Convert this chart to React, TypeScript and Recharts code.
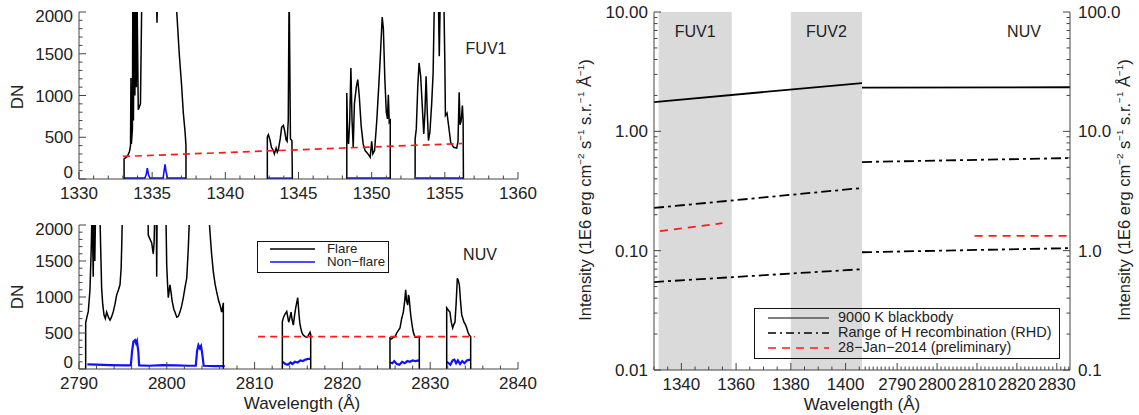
import { LineChart, Line, XAxis, YAxis, ReferenceArea } from 'recharts';

type Pt = [number, number];

const FONT = '"Liberation Sans", Arial, Helvetica, sans-serif';
const INK = '#222';
const AXIS = '#444';

// ---- top left: FUV1 spectra (wavelength A, DN) ----
const fuvFlareWin1: Pt[] = [
  [1333.08, 0], [1333.08, 240], [1333.3, 270], [1333.45, 330], [1333.52, 400], [1333.55, 1210],
  [1333.58, 420], [1333.65, 600], [1333.68, 2300], [1333.72, 700], [1333.78, 2300], [1333.82, 1000],
  [1333.86, 2300], [1333.92, 1100], [1333.96, 2300], [1334.05, 830], [1334.2, 900], [1334.3, 2300],
  [1335.28, 2300], [1335.33, 1870], [1335.38, 2300], [1336.62, 2300], [1336.68, 2000], [1336.85, 1500],
  [1337.0, 1150], [1337.13, 790], [1337.25, 560], [1337.31, 400], [1337.31, 0],
];
const fuvFlareWin2: Pt[] = [
  [1342.87, 0], [1342.87, 500], [1342.94, 530], [1343.05, 470], [1343.15, 380], [1343.28, 340],
  [1343.35, 300], [1343.47, 370], [1343.55, 320], [1343.62, 350], [1343.75, 480], [1343.85, 620],
  [1343.97, 640], [1344.05, 580], [1344.15, 470], [1344.22, 450], [1344.3, 700], [1344.36, 2300],
  [1344.4, 1500], [1344.45, 480], [1344.55, 460], [1344.58, 0],
];
const fuvFlareWin3: Pt[] = [
  [1348.3, 0], [1348.3, 1030], [1348.36, 500], [1348.42, 420], [1348.5, 700], [1348.58, 1330],
  [1348.66, 700], [1348.74, 380], [1348.82, 900], [1348.95, 1100], [1349.05, 1190], [1349.15, 1000],
  [1349.28, 640], [1349.42, 420], [1349.55, 340], [1349.75, 300], [1349.9, 260], [1350.0, 450],
  [1350.08, 300], [1350.2, 340], [1350.35, 700], [1350.5, 1160], [1350.6, 1500], [1350.72, 1940],
  [1350.8, 1800], [1350.9, 1200], [1351.0, 800], [1351.08, 720], [1351.14, 1010], [1351.2, 680],
  [1351.27, 700], [1351.27, 0],
];
const fuvFlareWin4: Pt[] = [
  [1352.97, 0], [1352.97, 480], [1353.05, 600], [1353.15, 1100], [1353.24, 1390], [1353.35, 1230],
  [1353.45, 900], [1353.56, 540], [1353.64, 800], [1353.72, 1230], [1353.8, 800], [1353.88, 460],
  [1353.98, 560], [1354.1, 900], [1354.2, 1270], [1354.3, 2300], [1354.55, 2300], [1354.62, 1470],
  [1354.7, 2300], [1354.92, 2300], [1355.0, 1400], [1355.04, 760], [1355.15, 790], [1355.25, 650],
  [1355.4, 440], [1355.6, 380], [1355.81, 370], [1355.9, 450], [1355.98, 1040], [1356.04, 650],
  [1356.12, 700], [1356.2, 880], [1356.25, 700], [1356.27, 0],
];
const fuvQuietWin1: Pt[] = [
  [1333.08, 10], [1334.5, 10], [1334.6, 60], [1334.67, 130], [1334.75, 50], [1334.85, 10],
  [1335.75, 10], [1335.82, 100], [1335.88, 175], [1335.95, 90], [1336.05, 10], [1337.3, 10],
];
const fuvQuietWin2: Pt[] = [[1342.9, 10], [1344.55, 10]];
const fuvQuietWin3: Pt[] = [[1348.32, 10], [1351.25, 10]];
const fuvQuietWin4: Pt[] = [[1353.0, 10], [1356.25, 10]];
const fuvObserved: Pt[] = [[1333.0, 270], [1356.2, 425]];

// ---- bottom left: NUV spectra ----
const nuvFlareWin1: Pt[] = [
  [2790.76, 0], [2790.76, 640], [2790.9, 720], [2791.06, 800], [2791.25, 1100], [2791.4, 1700],
  [2791.5, 2300], [2791.62, 1280], [2791.7, 2300], [2791.8, 1500], [2791.9, 2300], [2792.35, 2300],
  [2792.47, 1680], [2792.58, 1120], [2792.7, 900], [2792.85, 750], [2793.0, 700], [2793.15, 790],
  [2793.35, 720], [2793.53, 680], [2793.7, 720], [2793.91, 800], [2794.1, 900], [2794.29, 1030],
  [2794.5, 1100], [2794.67, 1170], [2794.8, 1400], [2794.86, 1680], [2794.97, 2300], [2797.85, 2300],
  [2797.89, 1860], [2798.1, 1800], [2798.28, 1750], [2798.46, 1600], [2798.55, 1750], [2798.66, 2300],
  [2798.8, 2300], [2798.85, 1280], [2798.9, 2300], [2799.88, 2300], [2799.99, 1440], [2800.1, 1150],
  [2800.17, 990], [2800.36, 1170], [2800.5, 1050], [2800.6, 950], [2800.8, 830], [2800.93, 790],
  [2801.13, 720], [2801.3, 730], [2801.5, 790], [2801.7, 880], [2801.88, 990], [2802.1, 1150],
  [2802.27, 1260], [2802.45, 1680], [2802.64, 2300], [2804.7, 2300], [2804.92, 1900], [2805.1, 1600],
  [2805.3, 1350], [2805.5, 1180], [2805.68, 1070], [2805.9, 950], [2806.06, 890], [2806.25, 790],
  [2806.35, 850], [2806.44, 920], [2806.44, 0],
];
const nuvFlareWin2: Pt[] = [
  [2813.16, 0], [2813.16, 660], [2813.3, 720], [2813.45, 760], [2813.66, 800], [2813.78, 720],
  [2813.88, 650], [2814.0, 700], [2814.15, 790], [2814.28, 680], [2814.41, 610], [2814.55, 740],
  [2814.68, 850], [2814.8, 920], [2814.91, 990], [2815.0, 850], [2815.06, 750], [2815.15, 640],
  [2815.25, 570], [2815.4, 500], [2815.55, 470], [2815.75, 450], [2815.93, 440], [2816.1, 460],
  [2816.31, 510], [2816.39, 480], [2816.39, 0],
];
const nuvFlareWin3: Pt[] = [
  [2825.42, 0], [2825.42, 430], [2825.6, 420], [2825.8, 440], [2826.0, 450], [2826.18, 500],
  [2826.4, 540], [2826.56, 570], [2826.75, 700], [2826.94, 790], [2827.1, 950], [2827.21, 1100],
  [2827.3, 950], [2827.44, 890], [2827.52, 1030], [2827.59, 1000], [2827.7, 850], [2827.78, 750],
  [2827.95, 600], [2828.08, 510], [2828.27, 440], [2828.5, 440], [2828.65, 450], [2828.76, 450],
  [2828.76, 0],
];
const nuvFlareWin4: Pt[] = [
  [2831.88, 0], [2831.88, 850], [2832.05, 820], [2832.25, 790], [2832.4, 650], [2832.56, 570],
  [2832.7, 620], [2832.82, 650], [2832.95, 900], [2833.09, 1260], [2833.2, 1230], [2833.32, 1170],
  [2833.45, 950], [2833.59, 750], [2833.72, 700], [2833.85, 650], [2834.0, 620], [2834.16, 570],
  [2834.3, 510], [2834.45, 470], [2834.61, 450], [2834.61, 0],
];
const nuvQuietWin1: Pt[] = [
  [2790.95, 65], [2792, 60], [2793.5, 55], [2795, 50], [2795.9, 50], [2796.05, 250], [2796.2, 380],
  [2796.38, 400], [2796.5, 360], [2796.6, 390], [2796.75, 250], [2796.85, 50], [2798, 45],
  [2799.5, 55], [2801, 50], [2802.5, 45], [2803.3, 45], [2803.45, 250], [2803.6, 330],
  [2803.75, 290], [2803.9, 320], [2804.05, 200], [2804.2, 45], [2805.5, 40], [2806.6, 40],
];
const nuvQuietWin2: Pt[] = [
  [2813.2, 100], [2813.5, 70], [2813.8, 60], [2814.1, 90], [2814.3, 70], [2814.6, 100],
  [2814.9, 90], [2815.2, 120], [2815.5, 110], [2815.8, 130], [2816.1, 140], [2816.4, 140],
];
const nuvQuietWin3: Pt[] = [
  [2825.45, 90], [2825.7, 80], [2825.9, 110], [2826.2, 70], [2826.5, 60], [2826.8, 100],
  [2827.1, 80], [2827.4, 110], [2827.7, 100], [2828.0, 120], [2828.3, 110], [2828.75, 120],
];
const nuvQuietWin4: Pt[] = [
  [2831.9, 100], [2832.1, 80], [2832.3, 60], [2832.55, 120], [2832.75, 130], [2832.95, 80],
  [2833.15, 120], [2833.4, 70], [2833.65, 110], [2833.9, 80], [2834.2, 120], [2834.6, 130],
];
const nuvObserved: Pt[] = [[2810.4, 450], [2835.1, 450]];

// ---- right: continuum intensity (1E6 erg cm-2 s-1 sr-1 A-1) ----
const fuvBands: Pt[] = [[1331.7, 1358.4], [1380, 1406]];
const fuvBandNames = ['FUV1', 'FUV2'];
const bbFuv: Pt[] = [[1330, 1.76], [1406, 2.54]];
const rhdHighFuv: Pt[] = [[1330, 0.228], [1406, 0.335]];
const rhdLowFuv: Pt[] = [[1330, 0.0546], [1406, 0.07]];
const obsFuv: Pt[] = [[1332.2, 0.146], [1355, 0.17]];
const bbNuv: Pt[] = [[2781.2, 23.2], [2833.3, 23.4]];
const rhdHighNuv: Pt[] = [[2781.2, 5.53], [2833.3, 5.97]];
const rhdLowNuv: Pt[] = [[2781.2, 0.97], [2833.3, 1.05]];
const obsNuv: Pt[] = [[2809.4, 1.33], [2833.3, 1.33]];

// ---- ticks ----
const range = (a: number, b: number, step: number) => {
  const out: number[] = [];
  for (let v = a; v <= b + 1e-9; v += step) out.push(Math.round(v * 1000) / 1000);
  return out;
};
const logTicks = (lo: number, hi: number) => {
  const out: number[] = [];
  for (let d = lo; d < hi * 0.999; d *= 10) for (let k = 1; k < 10; k++) out.push(+(d * k).toPrecision(3));
  out.push(hi);
  return out;
};
const dnMajor = [0, 500, 1000, 1500, 2000];
const fuv1Major = [1330, 1335, 1340, 1345, 1350, 1355, 1360];
const nuvSpecMajor = [2790, 2800, 2810, 2820, 2830, 2840];
const fuvWideMajor = [1340, 1360, 1380, 1400];
const nuvWideMajor = [2790, 2800, 2810, 2820, 2830];
const fuvIntMajor = [0.01, 0.1, 1, 10];
const nuvIntMajor = [0.1, 1, 10, 100];

const rows = (pts: Pt[]) => pts.map(([x, y]) => ({ x, y }));
const isIn = (list: number[], v: number) => list.some((m) => Math.abs(m - v) < 1e-9);

type Side = 'bottom' | 'top' | 'left' | 'right';
// nudge: shifts the lowest / highest y label inward, like the original plot does
function tickOf(side: Side, majors: number[], fmt: ((v: number) => string) | null, nudge = false, fontSize = 17) {
  const lo = Math.min(...majors);
  const hi = Math.max(...majors);
  return (props: any) => {
    const { x, y, payload } = props;
    const v = payload.value as number;
    const major = isIn(majors, v);
    const len = major ? 7 : 3.5;
    const label = major && fmt ? fmt(v) : null;
    const ls = { stroke: AXIS, strokeWidth: 1 };
    const ts = { fontSize, fontFamily: FONT, fill: INK };
    const dy = nudge ? (v === lo ? -7 : v === hi ? 4 : 0) : 0;
    if (side === 'bottom')
      return (
        <g>
          <line x1={x} y1={y} x2={x} y2={y - len} {...ls} />
          {label && <text x={x} y={y + 20} textAnchor="middle" {...ts}>{label}</text>}
        </g>
      );
    if (side === 'top')
      return <g><line x1={x} y1={y} x2={x} y2={y + len} {...ls} /></g>;
    if (side === 'left')
      return (
        <g>
          <line x1={x} y1={y} x2={x + len} y2={y} {...ls} />
          {label && <text x={x - 6} y={y + 6 + dy} textAnchor="end" {...ts}>{label}</text>}
        </g>
      );
    return (
      <g>
        <line x1={x} y1={y} x2={x - len} y2={y} {...ls} />
        {label && <text x={x + 8} y={y + 6 + dy} textAnchor="start" {...ts}>{label}</text>}
      </g>
    );
  };
}

const fixed = (n: number) => (v: number) => v.toFixed(n);
const plain = (v: number) => String(v);

const lineProps = { dataKey: 'y', dot: false, isAnimationActive: false, type: 'linear' as const };
const DASHDOT = '10 4 3 4';

function Text({ x, y, children, size = 17, rotate = false }: any) {
  return (
    <div
      style={{
        position: 'absolute', left: x, top: y, fontSize: size, color: INK, whiteSpace: 'nowrap',
        transform: `translate(-50%, -50%)${rotate ? ' rotate(-90deg)' : ''}`, lineHeight: 1,
      }}
    >
      {children}
    </div>
  );
}

// plotTop / plotBottom are relative to the panel's own top edge
function SpectrumPanel({ top, plotTop, plotBottom, domain, majors, minors, flare, quiet, observed, quietWidth }: any) {
  const axisH = 30;
  return (
    <div style={{ position: 'absolute', left: 0, top }}>
      <LineChart width={540} height={plotBottom + axisH} margin={{ top: plotTop, right: 22, bottom: 0, left: 0 }}>
        <XAxis type="number" dataKey="x" domain={domain} allowDataOverflow ticks={minors} interval={0}
          height={axisH} tickSize={0} tickMargin={0} stroke={AXIS} tick={tickOf('bottom', majors, plain)} />
        <XAxis xAxisId="top" orientation="top" type="number" dataKey="x" domain={domain} allowDataOverflow
          ticks={minors} interval={0} height={0} tickSize={0} tickMargin={0} stroke={AXIS} tick={tickOf('top', majors, null)} />
        <YAxis type="number" domain={[0, 2000]} allowDataOverflow ticks={range(0, 2000, 100)} interval={0}
          width={79} tickSize={0} tickMargin={0} stroke={AXIS} tick={tickOf('left', dnMajor, plain, true)} />
        <YAxis yAxisId="r" orientation="right" type="number" domain={[0, 2000]} allowDataOverflow ticks={range(0, 2000, 100)}
          interval={0} width={0} tickSize={0} tickMargin={0} stroke={AXIS} tick={tickOf('right', dnMajor, null)} />
        {quiet.map((d: Pt[], i: number) => (
          <Line key={'q' + i} {...lineProps} data={rows(d)} stroke="#1010ff" strokeWidth={quietWidth} />
        ))}
        {flare.map((d: Pt[], i: number) => (
          <Line key={'f' + i} {...lineProps} data={rows(d)} stroke="#000" strokeWidth={1.5} />
        ))}
        <Line {...lineProps} data={rows(observed)} stroke="#ff1a1a" strokeWidth={1.7} strokeDasharray="7 5" />
      </LineChart>
    </div>
  );
}

function LegendRow({ y, color, dash, label, x0, x1, tx, size, width = 1.6 }: any) {
  return (
    <>
      <svg style={{ position: 'absolute', left: 0, top: 0, overflow: 'visible' }} width={1} height={1}>
        <line x1={x0} y1={y} x2={x1} y2={y} stroke={color} strokeWidth={width} strokeDasharray={dash} />
      </svg>
      <div style={{ position: 'absolute', left: tx, top: y - size * 0.6, fontSize: size, color: INK, whiteSpace: 'nowrap', lineHeight: 1.2 }}>
        {label}
      </div>
    </>
  );
}

const sup = { fontSize: '0.6em', verticalAlign: 'super', lineHeight: 0 } as const;
const intensityTitle = (
  <>
    Intensity (1E6 erg cm<span style={sup}>−2</span> s<span style={sup}>−1</span> s.r.<span style={sup}>−1</span> Å<span style={sup}>−1</span>)
  </>
);

export default function App() {
  return (
    <div style={{ position: 'absolute', left: 0, top: 0, width: 1139, height: 415, background: '#fff', fontFamily: FONT, overflow: 'hidden' }}>
      <SpectrumPanel top={0} plotTop={12} plotBottom={179} domain={[1330, 1360]} majors={fuv1Major} minors={range(1330, 1360, 1)}
        flare={[fuvFlareWin1, fuvFlareWin2, fuvFlareWin3, fuvFlareWin4]} quietWidth={1.6}
        quiet={[fuvQuietWin1, fuvQuietWin2, fuvQuietWin3, fuvQuietWin4]} observed={fuvObserved} />
      <SpectrumPanel top={200} plotTop={25} plotBottom={169} domain={[2790, 2840]} majors={nuvSpecMajor} minors={range(2790, 2840, 2)}
        flare={[nuvFlareWin1, nuvFlareWin2, nuvFlareWin3, nuvFlareWin4]} quietWidth={2.2}
        quiet={[nuvQuietWin1, nuvQuietWin2, nuvQuietWin3, nuvQuietWin4]} observed={nuvObserved} />

      {/* right: FUV part */}
      <div style={{ position: 'absolute', left: 560, top: 0 }}>
        <LineChart width={322} height={400} margin={{ top: 12, right: 20, bottom: 0, left: 0 }}>
          {fuvBands.map(([a, b], i) => (
            <ReferenceArea key={i} x1={a} x2={b} fill="#dadada" fillOpacity={1} stroke="none" />
          ))}
          <XAxis type="number" dataKey="x" domain={[1330, 1406]} allowDataOverflow ticks={range(1330, 1405, 5)} interval={0}
            height={30} tickSize={0} tickMargin={0} stroke={AXIS} tick={tickOf('bottom', fuvWideMajor, plain)} />
          <XAxis xAxisId="top" orientation="top" type="number" dataKey="x" domain={[1330, 1406]} allowDataOverflow
            ticks={range(1330, 1405, 5)} interval={0} height={0} tickSize={0} tickMargin={0} stroke={AXIS}
            tick={tickOf('top', fuvWideMajor, null)} />
          <YAxis type="number" scale="log" domain={[0.01, 10]} allowDataOverflow ticks={logTicks(0.01, 10)} interval={0}
            width={94} tickSize={0} tickMargin={0} stroke={AXIS} tick={tickOf('left', fuvIntMajor, fixed(2))} />
          <YAxis yAxisId="r" orientation="right" type="number" scale="log" domain={[0.01, 10]} allowDataOverflow
            ticks={logTicks(0.01, 10)} interval={0} width={0} tickSize={0} tickMargin={0} stroke={AXIS}
            tick={tickOf('right', fuvIntMajor, null)} />
          <Line {...lineProps} data={rows(bbFuv)} stroke="#000" strokeWidth={1.8} />
          <Line {...lineProps} data={rows(rhdHighFuv)} stroke="#000" strokeWidth={1.8} strokeDasharray={DASHDOT} />
          <Line {...lineProps} data={rows(rhdLowFuv)} stroke="#000" strokeWidth={1.8} strokeDasharray={DASHDOT} />
          <Line {...lineProps} data={rows(obsFuv)} stroke="#ff1a1a" strokeWidth={1.8} strokeDasharray="8 6" />
        </LineChart>
      </div>

      {/* right: NUV part */}
      <div style={{ position: 'absolute', left: 862, top: 0 }}>
        <LineChart width={277} height={400} margin={{ top: 12, right: 0, bottom: 0, left: 0 }}>
          <XAxis type="number" dataKey="x" domain={[2781.2, 2833.3]} allowDataOverflow ticks={range(2782, 2833, 1)} interval={0}
            height={30} tickSize={0} tickMargin={0} stroke={AXIS} tick={tickOf('bottom', nuvWideMajor, plain)} />
          <XAxis xAxisId="top" orientation="top" type="number" dataKey="x" domain={[2781.2, 2833.3]} allowDataOverflow
            ticks={range(2782, 2833, 1)} interval={0} height={0} tickSize={0} tickMargin={0} stroke={AXIS}
            tick={tickOf('top', nuvWideMajor, null)} />
          <YAxis yAxisId="l" type="number" scale="log" domain={[0.1, 100]} allowDataOverflow ticks={[0.1, 100]} width={0}
            tickSize={0} tickMargin={0} stroke={AXIS} tick={false} />
          <YAxis orientation="right" type="number" scale="log" domain={[0.1, 100]} allowDataOverflow ticks={logTicks(0.1, 100)}
            interval={0} width={69} tickSize={0} tickMargin={0} stroke={AXIS} tick={tickOf('right', nuvIntMajor, fixed(1))} />
          <Line {...lineProps} data={rows(bbNuv)} stroke="#000" strokeWidth={1.8} />
          <Line {...lineProps} data={rows(rhdHighNuv)} stroke="#000" strokeWidth={1.8} strokeDasharray={DASHDOT} />
          <Line {...lineProps} data={rows(rhdLowNuv)} stroke="#000" strokeWidth={1.8} strokeDasharray={DASHDOT} />
          <Line {...lineProps} data={rows(obsNuv)} stroke="#ff1a1a" strokeWidth={1.8} strokeDasharray="8 6" />
        </LineChart>
      </div>

      {/* titles and panel labels */}
      <Text x={17} y={97} rotate>DN</Text>
      <Text x={17} y={297} rotate>DN</Text>
      <Text x={302} y={403}>Wavelength (Å)</Text>
      <Text x={862} y={404}>Wavelength (Å)</Text>
      <Text x={585} y={190} size={16.5} rotate>{intensityTitle}</Text>
      <Text x={1124} y={190} size={16.5} rotate>{intensityTitle}</Text>
      <Text x={486} y={49} size={16}>FUV1</Text>
      <Text x={480} y={255} size={16}>NUV</Text>
      {fuvBands.map(([a, b], i) => (
        <Text key={i} x={654 + ((a + b) / 2 - 1330) * (208 / 76)} y={32} size={16}>{fuvBandNames[i]}</Text>
      ))}
      <Text x={1024} y={32} size={16}>NUV</Text>

      {/* legend: spectra */}
      <div style={{ position: 'absolute', left: 257, top: 241, width: 130, height: 30, border: '1.5px solid #111' }} />
      <LegendRow y={249} color="#000" x0={270} x1={315} tx={327} size={13.3} label="Flare" />
      <LegendRow y={262} color="#1010ff" x0={270} x1={315} tx={327} size={13.3} label="Non−flare" />

      {/* legend: continuum */}
      <div style={{ position: 'absolute', left: 754, top: 308, width: 304, height: 49, border: '1.5px solid #111' }} />
      <LegendRow y={318} color="#555" x0={768} x1={829} tx={838} size={14.5} width={1.3} label="9000 K blackbody" />
      <LegendRow y={333} color="#000" x0={768} x1={829} tx={838} size={14.5} dash="8 4 2 4" label="Range of H recombination (RHD)" />
      <LegendRow y={348} color="#ff1a1a" x0={768} x1={829} tx={838} size={14.5} dash="8 6" label="28−Jan−2014 (preliminary)" />
    </div>
  );
}
